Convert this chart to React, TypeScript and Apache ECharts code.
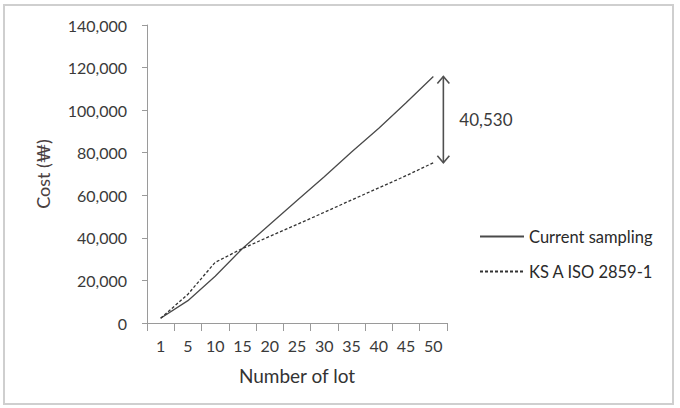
import React, { useEffect, useRef } from "react";
import * as echarts from "echarts";

const lots = ["1", "5", "10", "15", "20", "25", "30", "35", "40", "45", "50"];
const currentSampling = [2200, 10500, 22000, 35000, 46300, 57500, 68700, 80300, 91500, 103500, 115830];
const ksIso = [2200, 13500, 28500, 35000, 40700, 46300, 52000, 57800, 63500, 69200, 75300];
const seriesNames = ["Current sampling", "KS A ISO 2859-1"];
const yMin = 0;
const yMax = 140000;
const yInterval = 20000;

const FONT = "Lato, 'Open Sans', sans-serif";

export default function App() {
  const ref = useRef<HTMLDivElement>(null);
  useEffect(() => {
    if (!ref.current) return;
    const chart = echarts.init(ref.current, undefined, { renderer: "svg" });
    const fmt = (v: number) => v.toLocaleString("en-US");
    chart.setOption({
      animation: false,
      backgroundColor: "#ffffff",
      textStyle: { fontFamily: FONT },
      grid: { left: 147, right: 233, top: 25, bottom: 85 },
      legend: {
        orient: "vertical",
        left: 474,
        top: 223,
        itemWidth: 44,
        itemHeight: 16,
        itemGap: 18,
        itemStyle: { color: "rgba(0,0,0,0)", borderWidth: 0, opacity: 0 },
        textStyle: { fontFamily: FONT, fontSize: 16.5, color: "#2a2a2a", lineHeight: 16 },
        data: seriesNames,
      },
      xAxis: {
        type: "category",
        data: lots,
        boundaryGap: true,
        name: "Number of lot",
        nameLocation: "middle",
        nameGap: 43,
        nameTextStyle: { fontFamily: FONT, fontSize: 19, color: "#333" },
        axisLine: { lineStyle: { color: "#9a9a9a", width: 1 } },
        axisTick: { show: true, length: 8, lineStyle: { color: "#9a9a9a" } },
        axisLabel: { fontFamily: FONT, fontSize: 16, color: "#3a3a3a", margin: 14, interval: 0 },
        splitLine: { show: false },
      },
      yAxis: {
        type: "value",
        min: yMin,
        max: yMax,
        interval: yInterval,
        name: "Cost (₩)",
        nameLocation: "middle",
        nameGap: 95,
        nameRotate: 90,
        nameTextStyle: { fontFamily: FONT, fontSize: 18, color: "#4a4040" },
        axisLine: { show: true, lineStyle: { color: "#9a9a9a", width: 1 } },
        axisTick: { show: true, length: 5, lineStyle: { color: "#9a9a9a" } },
        axisLabel: { fontFamily: FONT, fontSize: 16, color: "#3a3a3a", margin: 20, formatter: (v: number) => fmt(v) },
        splitLine: { show: false },
      },
      series: [
        {
          name: seriesNames[0],
          type: "line",
          data: currentSampling,
          symbol: "none",
          lineStyle: { color: "#4a4a4a", width: 1.3, type: "solid" },
          itemStyle: { color: "#4a4a4a" },
        },
        {
          name: seriesNames[1],
          type: "line",
          data: ksIso,
          symbol: "none",
          lineStyle: { color: "#333", width: 1.3, type: [3, 2] },
          itemStyle: { color: "#333" },
        },
      ],
    });

    const last = lots.length - 1;
    const pTop = chart.convertToPixel({ seriesIndex: 0 }, [last, currentSampling[last]]) as number[];
    const pBot = chart.convertToPixel({ seriesIndex: 1 }, [last, ksIso[last]]) as number[];
    const ax = pTop[0] + 10;
    const y1 = pTop[1];
    const y2 = pBot[1];
    const diff = currentSampling[last] - ksIso[last];
    const arrowStyle = { stroke: "#505050", lineWidth: 1.6, fill: "none" };
    chart.setOption({
      graphic: [
        {
          type: "rect",
          shape: { x: 4, y: 5, width: 669, height: 399 },
          style: { stroke: "#cfcfcf", lineWidth: 2, fill: "none" },
          silent: true,
        },
        { type: "line", shape: { x1: ax, y1: y1, x2: ax, y2: y2 }, style: arrowStyle },
        { type: "polyline", shape: { points: [[ax - 6, y1 + 7], [ax, y1], [ax + 6, y1 + 7]] }, style: arrowStyle },
        { type: "polyline", shape: { points: [[ax - 6, y2 - 7], [ax, y2], [ax + 6, y2 - 7]] }, style: arrowStyle },
        {
          type: "text",
          x: ax + 16,
          y: (y1 + y2) / 2,
          style: {
            text: fmt(diff),
            fontFamily: FONT,
            fontSize: 17,
            fill: "#3a3a3a",
            verticalAlign: "middle",
            align: "left",
          },
        },
      ],
    });
    return () => chart.dispose();
  }, []);
  return (
    <div
      ref={ref}
      style={{ position: "fixed", left: 0, top: 0, width: 680, height: 408 }}
    />
  );
}
